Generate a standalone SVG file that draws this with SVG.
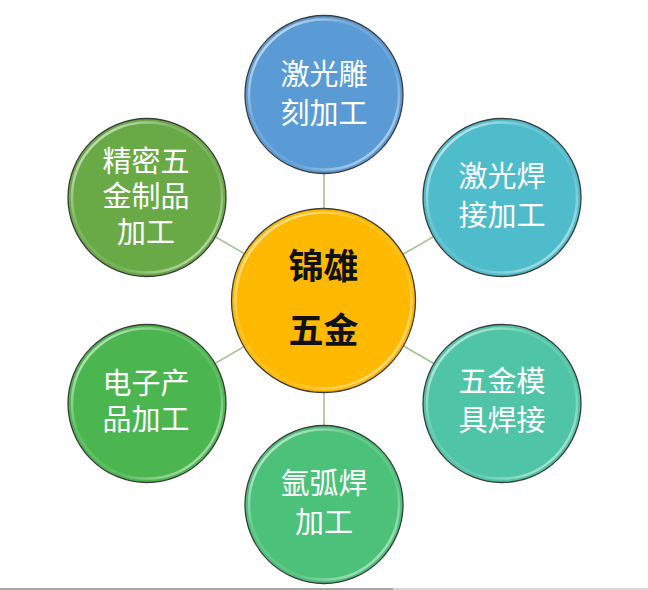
<svg xmlns="http://www.w3.org/2000/svg" width="648" height="590" viewBox="0 0 648 590">
<defs>
<linearGradient id="hl" x1="0" y1="0" x2="1" y2="1">
<stop offset="0" stop-color="#ffffff" stop-opacity="0.85"/>
<stop offset="0.35" stop-color="#ffffff" stop-opacity="0.15"/>
<stop offset="0.65" stop-color="#ffffff" stop-opacity="0.1"/>
<stop offset="1" stop-color="#ffffff" stop-opacity="0.75"/>
</linearGradient>
</defs>
<style>
.c{stroke:#3c3c3c;stroke-width:1.3}
.r{fill:none;stroke:url(#hl);stroke-width:2.5}
.t{font-family:"Liberation Sans","Noto Sans CJK SC",sans-serif;font-size:29px;fill:#ffffff;text-anchor:middle}
.m{font-family:"Liberation Sans","Noto Sans CJK SC",sans-serif;font-size:35px;font-weight:bold;fill:#111111;text-anchor:middle}
.l{stroke:#a3c28f;stroke-width:1.6;fill:none}
</style>
<rect width="648" height="590" fill="#ffffff"/>
<g id="connectors">
<line class="l" x1="324" y1="300" x2="324" y2="94"/>
<line class="l" x1="324" y1="300" x2="502" y2="197"/>
<line class="l" x1="324" y1="300" x2="502" y2="403"/>
<line class="l" x1="324" y1="300" x2="324" y2="504"/>
<line class="l" x1="324" y1="300" x2="147" y2="403"/>
<line class="l" x1="324" y1="300" x2="147" y2="197"/>
</g>
<g id="node-top">
<circle class="c" cx="324" cy="94.5" r="79" fill="#5b9bd5"/>
<circle class="r" cx="324" cy="94.5" r="75"/>
<text class="t" x="324" y="84.5">激光雕</text>
<text class="t" x="324" y="123.5">刻加工</text>
</g>
<g id="node-right-top">
<circle class="c" cx="502" cy="197.5" r="79" fill="#4fbccc"/>
<circle class="r" cx="502" cy="197.5" r="75"/>
<text class="t" x="502" y="187">激光焊</text>
<text class="t" x="502" y="226">接加工</text>
</g>
<g id="node-right-bottom">
<circle class="c" cx="502" cy="403.5" r="79" fill="#4fc4a6"/>
<circle class="r" cx="502" cy="403.5" r="75"/>
<text class="t" x="502" y="392">五金模</text>
<text class="t" x="502" y="431">具焊接</text>
</g>
<g id="node-bottom">
<circle class="c" cx="324" cy="504.5" r="79" fill="#4cc179"/>
<circle class="r" cx="324" cy="504.5" r="75"/>
<text class="t" x="324" y="494">氩弧焊</text>
<text class="t" x="324" y="533">加工</text>
</g>
<g id="node-left-bottom">
<circle class="c" cx="147" cy="403.5" r="79" fill="#4bb64f"/>
<circle class="r" cx="147" cy="403.5" r="75"/>
<text class="t" x="146" y="394">电子产</text>
<text class="t" x="146" y="430">品加工</text>
</g>
<g id="node-left-top">
<circle class="c" cx="147" cy="197.5" r="79" fill="#69aa47"/>
<circle class="r" cx="147" cy="197.5" r="75"/>
<text class="t" x="146" y="171.5">精密五</text>
<text class="t" x="146" y="206.5">金制品</text>
<text class="t" x="146" y="242.5">加工</text>
</g>
<g id="node-center">
<circle class="c" cx="323.5" cy="300.5" r="92" fill="#ffb900"/>
<circle class="r" cx="323.5" cy="300.5" r="88"/>
<text class="m" x="323.5" y="279">锦雄</text>
<text class="m" x="323.5" y="343">五金</text>
</g>
<line x1="0" y1="589" x2="393" y2="589" stroke="#a8a8a8" stroke-width="2"/>
<line x1="393" y1="589" x2="648" y2="589" stroke="#d8d8d8" stroke-width="2"/>
</svg>
